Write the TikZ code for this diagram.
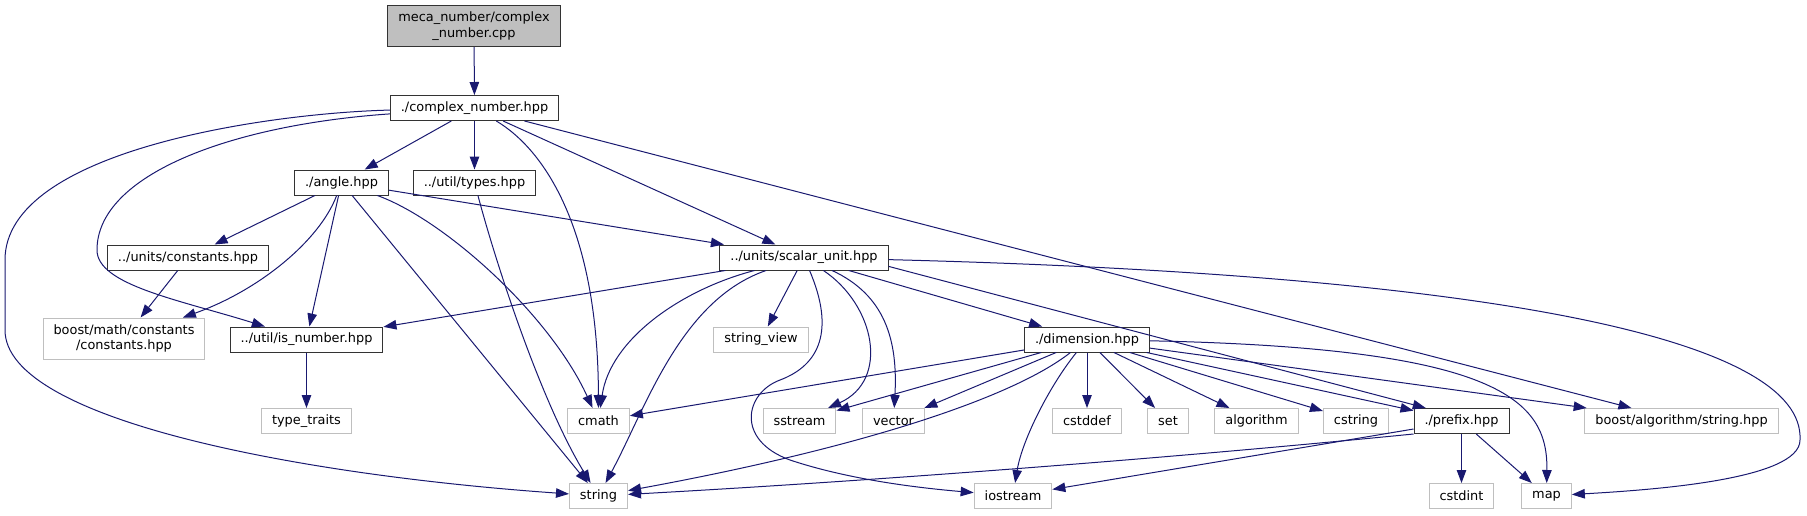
\documentclass[tikz,border=0pt]{standalone}
\usepackage{fontspec}
\setmainfont{DejaVu Sans}
\usepackage{xcolor}
\usepackage{tikz}
\usetikzlibrary{arrows.meta}
\definecolor{midblue}{HTML}{191970}
\definecolor{grey75}{HTML}{BFBFBF}

\begin{document}
\begin{tikzpicture}[x=1pt,y=-1pt,
    file/.style={draw=black!80,line width=1pt,fill=white,minimum height=25pt,
      inner xsep=10.5pt,inner ysep=2pt,font=\fontsize{12.9}{15.5}\selectfont},
    sysfile/.style={file,draw=grey75},
    rootfile/.style={file,fill=grey75,align=center,minimum height=41pt},
    dep/.style={midblue,line width=1pt,-{Triangle[length=13pt,width=9.5pt]}}]
  \useasboundingbox (0,0) rectangle (1807,515);
  % project headers
  \node[rootfile] (cpp) at (474,26) {meca\_number/complex\\\_number.cpp};
  \node[file] (complex) at (474.5,108) {./complex\_number.hpp};
  \node[file] (angle) at (341.5,182.5) {./angle.hpp};
  \node[file] (types) at (474.5,182.5) {../util/types.hpp};
  \node[file] (constants) at (188,257.5) {../units/constants.hpp};
  \node[file] (scalar) at (804,257.5) {../units/scalar\_unit.hpp};
  \node[file] (isnum) at (306.5,339.5) {../util/is\_number.hpp};
  \node[file] (dimension) at (1087,339.5) {./dimension.hpp};
  \node[file] (prefix) at (1461.5,421) {./prefix.hpp};
  % system / library headers
  \node[sysfile,align=center,minimum height=41pt] (boostmath) at (124,338.5) {boost/math/constants\\/constants.hpp};
  \node[sysfile] (strview) at (761,339.5) {string\_view};
  \node[sysfile] (typetraits) at (306.5,421) {type\_traits};
  \node[sysfile] (cmath) at (598.5,421) {cmath};
  \node[sysfile] (sstream) at (799.5,421) {sstream};
  \node[sysfile] (vector) at (893.5,421) {vector};
  \node[sysfile] (cstddef) at (1087,421) {cstddef};
  \node[sysfile] (set) at (1168,421) {set};
  \node[sysfile] (algorithm) at (1256.5,421) {algorithm};
  \node[sysfile] (cstring) at (1356,421) {cstring};
  \node[sysfile] (boostalgo) at (1681.5,421) {boost/algorithm/string.hpp};
  \node[sysfile] (string) at (598.5,496) {string};
  \node[sysfile] (iostream) at (1013,496) {iostream};
  \node[sysfile] (cstdint) at (1461.5,496) {cstdint};
  \node[sysfile] (map) at (1546.5,496) {map};

  \draw[dep] (cpp) -- (complex);
  % complex_number.hpp
  \draw[dep] (complex) -- (angle);
  \draw[dep] (complex) -- (types);
  \draw[dep] (complex) .. controls (545,150) and (598,230) .. (cmath);
  \draw[dep] (complex) -- (scalar);
  \draw[dep] (complex) -- (boostalgo);
  \draw[dep] (complex) .. controls (230,125) and (97,175) .. (97,250)
    .. controls (97,285) and (180,300) .. (isnum);
  \draw[dep] (complex) .. controls (270,113) and (5,150) .. (5,260) -- (5,330)
    .. controls (5,420) and (300,475) .. (string);
  % angle.hpp
  \draw[dep] (angle) -- (constants);
  \draw[dep] (angle) .. controls (320,240) and (260,290) .. (boostmath);
  \draw[dep] (angle) -- (isnum);
  \draw[dep] (angle) -- (string);
  \draw[dep] (angle) .. controls (445,220) and (550,315) .. (cmath);
  \draw[dep] (angle) -- (scalar);
  \draw[dep] (types) .. controls (495,260) and (540,400) .. (string);
  \draw[dep] (constants) -- (boostmath);
  \draw[dep] (isnum) -- (typetraits);
  % scalar_unit.hpp
  \draw[dep] (scalar) -- (isnum);
  \draw[dep] (scalar) .. controls (680,290) and (610,340) .. (cmath);
  \draw[dep] (scalar) .. controls (680,300) and (645,410) .. (string);
  \draw[dep] (scalar) -- (strview);
  \draw[dep] (scalar) .. controls (875,305) and (890,380) .. (sstream);
  \draw[dep] (scalar) .. controls (885,295) and (898,340) .. (vector);
  \draw[dep] (scalar) .. controls (835,330) and (820,365) .. (780,380)
    .. controls (745,393) and (735,440) .. (790,460)
    .. controls (850,480) and (920,488) .. (iostream);
  \draw[dep] (scalar) -- (dimension);
  \draw[dep] (scalar.-6) -- (prefix.160);
  \draw[dep] (scalar) .. controls (1500,275) and (1805,340) .. (1800,440)
    .. controls (1800,480) and (1650,490) .. (map);
  % dimension.hpp
  \draw[dep] (dimension) -- (cmath);
  \draw[dep] (dimension) -- (sstream);
  \draw[dep] (dimension) -- (vector);
  \draw[dep] (dimension) .. controls (1010,400) and (850,450) .. (string);
  \draw[dep] (dimension) .. controls (1050,385) and (1022,440) .. (iostream);
  \draw[dep] (dimension) -- (cstddef);
  \draw[dep] (dimension) -- (set);
  \draw[dep] (dimension) -- (algorithm);
  \draw[dep] (dimension) -- (cstring);
  \draw[dep] (dimension) -- (prefix);
  \draw[dep] (dimension) -- (boostalgo);
  \draw[dep] (dimension) .. controls (1500,348) and (1548,400) .. (map);
  % prefix.hpp
  \draw[dep] (prefix.south west) .. controls (1100,465) and (800,485) .. (string);
  \draw[dep] (prefix) -- (iostream);
  \draw[dep] (prefix) -- (cstdint);
  \draw[dep] (prefix) -- (map);
\end{tikzpicture}
\end{document}
